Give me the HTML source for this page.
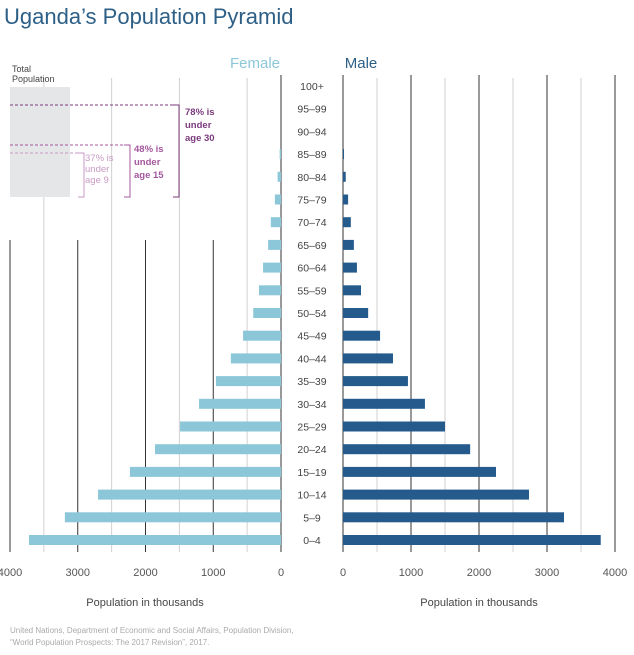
<!DOCTYPE html>
<html><head><meta charset="utf-8"><style>
body{margin:0;background:#fff;font-family:"Liberation Sans",sans-serif}
</style></head><body>
<svg width="634" height="650" xmlns="http://www.w3.org/2000/svg" font-family="Liberation Sans, sans-serif" id="chart">
<text x="4" y="24" font-size="22" fill="#2d5f86">Uganda’s Population Pyramid</text>
<g id="grid"></g>
<g id="bars"></g>
<g id="labels"></g>
<g id="ticks"></g>
<text x="255" y="68" font-size="15" fill="#8cc7d9" text-anchor="middle">Female</text>
<text x="361" y="68" font-size="15" fill="#2d5f86" text-anchor="middle">Male</text>
<text x="145" y="606" font-size="11" fill="#444" text-anchor="middle">Population in thousands</text>
<text x="479" y="606" font-size="11" fill="#444" text-anchor="middle">Population in thousands</text>
<text x="10" y="633" font-size="8" fill="#aaa">United Nations, Department of Economic and Social Affairs, Population Division,</text>
<text x="10" y="645" font-size="8" fill="#aaa">“World Population Prospects: The 2017 Revision”, 2017.</text>
<g>
<text x="12" y="72" font-size="9" fill="#444">Total</text>
<text x="12" y="82" font-size="9" fill="#444">Population</text>
<rect x="10" y="87" width="60" height="110" fill="#e5e6e8"/>
<g fill="none" stroke-width="1" stroke-dasharray="3,2">
<line x1="10" y1="105" x2="173" y2="105" stroke="#7b3a7e"/>
<line x1="10" y1="145" x2="128" y2="145" stroke="#a4579e"/>
<line x1="10" y1="153" x2="82" y2="153" stroke="#c99ac4"/>
</g>
<path d="M173 105H179V197H173" fill="none" stroke="#7b3a7e"/>
<path d="M124 145H130V197H124" fill="none" stroke="#a4579e"/>
<path d="M78 153H84V197H78" fill="none" stroke="#c99ac4"/>
<g font-size="9.5" fill="#7b3a7e" font-weight="bold"><text x="185" y="115">78% is</text><text x="185" y="128">under</text><text x="185" y="141">age 30</text></g>
<g font-size="9.5" fill="#a4579e" font-weight="bold"><text x="134" y="152">48% is</text><text x="134" y="165">under</text><text x="134" y="178">age 15</text></g>
<g font-size="9.5" fill="#c99ac4"><text x="85" y="161">37% is</text><text x="85" y="172">under</text><text x="85" y="183">age 9</text></g>
</g>
</svg>
<script>
const ages=["100+","95–99","90–94","85–89","80–84","75–79","70–74","65–69","60–64","55–59","50–54","45–49","40–44","35–39","30–34","25–29","20–24","15–19","10–14","5–9","0–4"];
const female=[0,0,0,20,50,90,150,190,265,325,410,560,740,960,1210,1490,1860,2230,2700,3190,3720];
const male=[0,0,0,15,40,75,115,160,205,265,370,545,735,955,1205,1500,1870,2250,2735,3250,3790];
const ticks=[0,1000,2000,3000,4000];
const NS="http://www.w3.org/2000/svg";
const xL=v=>281-v*0.06775, xR=v=>343+v*0.068;
const yRow=i=>86+i*22.7;
function mk(tag,attrs,parent,text){const e=document.createElementNS(NS,tag);for(const k in attrs)e.setAttribute(k,attrs[k]);if(text!=null)e.textContent=text;document.getElementById(parent).appendChild(e);return e;}
for(let v=500;v<=3500;v+=1000){
 let a=mk('line',{x1:xL(v),x2:xL(v),y1:78,y2:552,stroke:'#d0d0d0'},'grid');
 
 
 let b=mk('line',{x1:xR(v),x2:xR(v),y1:78,y2:552,stroke:'#d0d0d0'},'grid');
 
 
}
ticks.forEach(t=>{
 let a=mk('line',{x1:xL(t),x2:xL(t),y1:t===0?75:240,y2:552,stroke:'#333'},'grid');
 
 
 let b=mk('line',{x1:xR(t),x2:xR(t),y1:75,y2:552,stroke:'#333'},'grid');
 
 
 let c=mk('text',{x:xL(t),y:576,'font-size':11,fill:'#555','text-anchor':'middle'},'ticks',t);
 
 
 let d=mk('text',{x:xR(t),y:576,'font-size':11,fill:'#555','text-anchor':'middle'},'ticks',t);
 
 
});
ages.forEach((a,i)=>{
 const y=yRow(i);
 let f=mk('rect',{x:xL(female[i]),y:y-5,width:281-xL(female[i]),height:10,fill:'#8cc7d9'},'bars');
 
 
 let m=mk('rect',{x:343,y:y-5,width:xR(male[i])-343,height:10,fill:'#245b8c'},'bars');
 
 
 let t=mk('text',{x:312,y:y+4,'font-size':10.5,fill:'#444','text-anchor':'middle'},'labels',a);
 
 
});
</script>
</body></html>
